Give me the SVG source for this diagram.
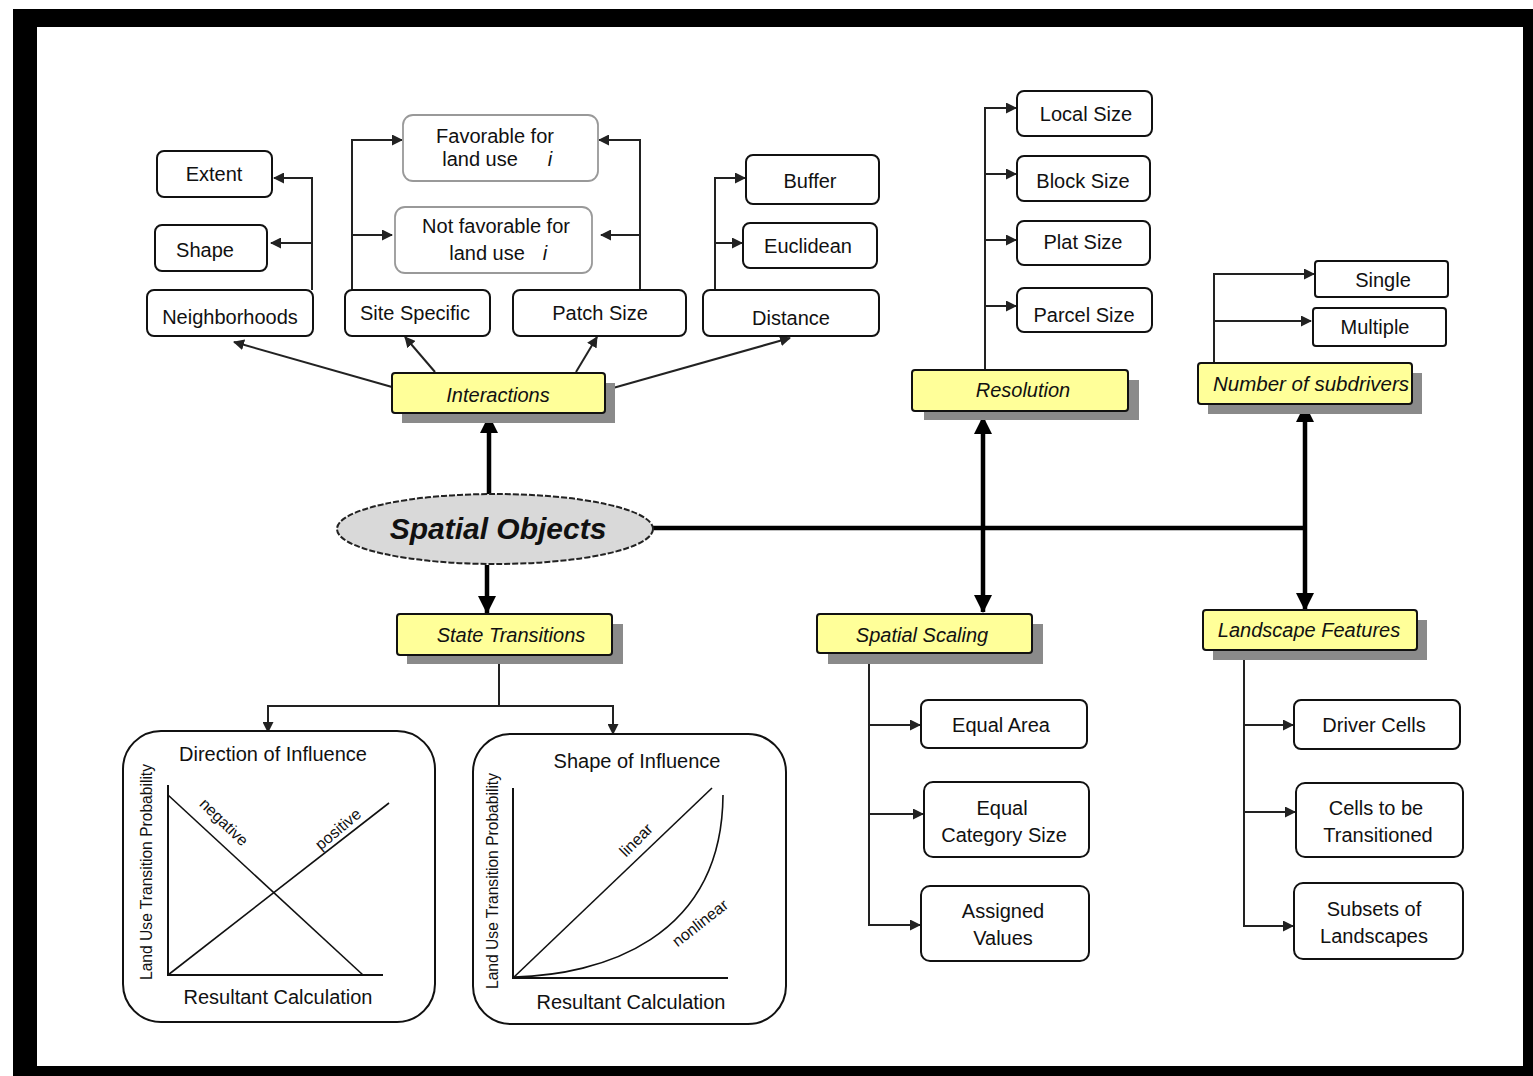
<svg xmlns="http://www.w3.org/2000/svg" width="1533" height="1076" viewBox="0 0 1533 1076">
<style>
.box{fill:#fff;stroke:#111;stroke-width:2}
.gbox{fill:#fff;stroke:#999;stroke-width:1.8}
.yb{fill:#ffff99;stroke:#111;stroke-width:2}
.sh{fill:#8a8a8a}
.t{font-family:"Liberation Sans",Arial,sans-serif;font-size:20px;fill:#111;text-anchor:middle;dominant-baseline:central}
.ti{font-family:"Liberation Sans",Arial,sans-serif;font-size:20px;font-style:italic;fill:#111;text-anchor:middle;dominant-baseline:central}
.sm{font-family:"Liberation Sans",Arial,sans-serif;font-size:16px;fill:#111;text-anchor:middle;dominant-baseline:central}
.ln{fill:none;stroke:#222;stroke-width:2}
.thick{fill:none;stroke:#000;stroke-width:4.5}
.ax{fill:none;stroke:#111;stroke-width:2}
.cv{fill:none;stroke:#111;stroke-width:1.6}
</style>
<defs>
<marker id="a" markerUnits="userSpaceOnUse" markerWidth="11" markerHeight="11" refX="10" refY="5.5" orient="auto"><path d="M0,0 L11,5.5 L0,11 z" fill="#222"/></marker>
<marker id="A" markerUnits="userSpaceOnUse" markerWidth="18" markerHeight="18" refX="17" refY="9" orient="auto-start-reverse"><path d="M0,0 L18,9 L0,18 z" fill="#000"/></marker>
</defs>
<rect x="0" y="0" width="1533" height="1076" fill="#fff"/>
<rect x="13" y="9" width="1520" height="1067" fill="#000"/>
<rect x="37" y="27" width="1486" height="1039" fill="#fff"/>

<g id="connectors">
<!-- Neighborhoods branch -->
<path class="ln" d="M312,290 V178 H274" marker-end="url(#a)"/>
<path class="ln" d="M312,243 H271" marker-end="url(#a)"/>
<!-- Site specific branch -->
<path class="ln" d="M352,290 V140 H402" marker-end="url(#a)"/>
<path class="ln" d="M352,235 H392" marker-end="url(#a)"/>
<!-- Patch size branch -->
<path class="ln" d="M640,290 V140 H599" marker-end="url(#a)"/>
<path class="ln" d="M640,235 H601" marker-end="url(#a)"/>
<!-- Distance branch -->
<path class="ln" d="M715,290 V178 H745" marker-end="url(#a)"/>
<path class="ln" d="M715,243 H742" marker-end="url(#a)"/>
<!-- Interactions to children -->
<path class="ln" d="M392,387 L234,342" marker-end="url(#a)"/>
<path class="ln" d="M435,372 L405,337" marker-end="url(#a)"/>
<path class="ln" d="M576,372 L597,337" marker-end="url(#a)"/>
<path class="ln" d="M613,388 L790,338" marker-end="url(#a)"/>
<!-- Resolution branch -->
<path class="ln" d="M985,370 V108 H1016" marker-end="url(#a)"/>
<path class="ln" d="M985,174 H1016" marker-end="url(#a)"/>
<path class="ln" d="M985,240 H1016" marker-end="url(#a)"/>
<path class="ln" d="M985,306 H1016" marker-end="url(#a)"/>
<!-- Number of subdrivers branch -->
<path class="ln" d="M1214,363 V274 H1314" marker-end="url(#a)"/>
<path class="ln" d="M1214,321 H1311" marker-end="url(#a)"/>
<!-- Spatial objects thick links -->
<path class="thick" d="M489,494 V416" marker-end="url(#A)"/>
<path class="thick" d="M487,565 V613" marker-end="url(#A)"/>
<path class="thick" d="M653,528 H1305"/>
<path class="thick" d="M983,417 V612" marker-start="url(#A)" marker-end="url(#A)"/>
<path class="thick" d="M1305,405 V610" marker-start="url(#A)" marker-end="url(#A)"/>
<!-- State transitions -->
<path class="ln" d="M499,656 V706 M268,706 H613"/>
<path class="ln" d="M268,705 V732" marker-end="url(#a)"/>
<path class="ln" d="M613,705 V734" marker-end="url(#a)"/>
<!-- Spatial scaling -->
<path class="ln" d="M869,654 V925 H920" marker-end="url(#a)"/>
<path class="ln" d="M869,725 H920" marker-end="url(#a)"/>
<path class="ln" d="M869,814 H923" marker-end="url(#a)"/>
<!-- Landscape features -->
<path class="ln" d="M1244,651 V926 H1293" marker-end="url(#a)"/>
<path class="ln" d="M1244,725 H1293" marker-end="url(#a)"/>
<path class="ln" d="M1244,812 H1295" marker-end="url(#a)"/>
</g>

<g id="spatial-objects">
<ellipse cx="495" cy="529" rx="158" ry="35" fill="#d9d9d9" stroke="#222" stroke-width="2" stroke-dasharray="6,2"/>
<text x="498" y="528" font-family="Liberation Sans,Arial,sans-serif" font-size="30" font-weight="bold" font-style="italic" text-anchor="middle" dominant-baseline="central" fill="#111">Spatial Objects</text>
</g>

<g id="interactions">
<rect class="sh" x="402" y="383" width="213" height="40"/>
<rect class="yb" x="392" y="373" width="213" height="40" rx="3"/>
<text class="ti" x="498" y="395">Interactions</text>
</g>
<g id="extent"><rect class="box" x="157" y="151" width="115" height="46" rx="7"/><text class="t" x="214" y="174">Extent</text></g>
<g id="shape"><rect class="box" x="155" y="225" width="112" height="46" rx="7"/><text class="t" x="205" y="250">Shape</text></g>
<g id="neighborhoods"><rect class="box" x="147" y="290" width="166" height="46" rx="7"/><text class="t" x="230" y="317">Neighborhoods</text></g>
<g id="site-specific"><rect class="box" x="345" y="290" width="145" height="46" rx="7"/><text class="t" x="415" y="313">Site Specific</text></g>
<g id="patch-size"><rect class="box" x="513" y="290" width="173" height="46" rx="7"/><text class="t" x="600" y="313">Patch Size</text></g>
<g id="distance"><rect class="box" x="703" y="290" width="176" height="46" rx="7"/><text class="t" x="791" y="318">Distance</text></g>
<g id="favorable"><rect class="gbox" x="403" y="115" width="195" height="66" rx="10"/><text class="t" x="495" y="136">Favorable for</text><text class="t" x="480" y="159">land use</text><text class="ti" x="550" y="159">i</text></g>
<g id="not-favorable"><rect class="gbox" x="395" y="207" width="197" height="66" rx="10"/><text class="t" x="496" y="226">Not favorable for</text><text class="t" x="487" y="253">land use</text><text class="ti" x="545" y="253">i</text></g>
<g id="buffer"><rect class="box" x="746" y="155" width="133" height="49" rx="7"/><text class="t" x="810" y="181">Buffer</text></g>
<g id="euclidean"><rect class="box" x="743" y="223" width="134" height="45" rx="7"/><text class="t" x="808" y="246">Euclidean</text></g>

<g id="resolution">
<rect class="sh" x="924" y="380" width="215" height="40"/>
<rect class="yb" x="912" y="370" width="216" height="41" rx="3"/>
<text class="ti" x="1023" y="390">Resolution</text>
</g>
<g id="local-size"><rect class="box" x="1017" y="91" width="135" height="45" rx="7"/><text class="t" x="1086" y="114">Local Size</text></g>
<g id="block-size"><rect class="box" x="1017" y="156" width="133" height="45" rx="7"/><text class="t" x="1083" y="181">Block Size</text></g>
<g id="plat-size"><rect class="box" x="1017" y="221" width="133" height="44" rx="7"/><text class="t" x="1083" y="242">Plat Size</text></g>
<g id="parcel-size"><rect class="box" x="1017" y="288" width="135" height="44" rx="7"/><text class="t" x="1084" y="315">Parcel Size</text></g>

<g id="number-of-subdrivers">
<rect class="sh" x="1208" y="373" width="214" height="41"/>
<rect class="yb" x="1198" y="363" width="214" height="41" rx="3"/>
<text class="ti" x="1311" y="384" textLength="196" lengthAdjust="spacingAndGlyphs">Number of subdrivers</text>
</g>
<g id="single"><rect class="box" x="1315" y="261" width="133" height="36" rx="3"/><text class="t" x="1383" y="280">Single</text></g>
<g id="multiple"><rect class="box" x="1313" y="308" width="133" height="38" rx="3"/><text class="t" x="1375" y="327">Multiple</text></g>

<g id="state-transitions">
<rect class="sh" x="407" y="624" width="216" height="40"/>
<rect class="yb" x="397" y="614" width="215" height="41" rx="3"/>
<text class="ti" x="511" y="635">State Transitions</text>
</g>
<g id="spatial-scaling">
<rect class="sh" x="828" y="624" width="215" height="40"/>
<rect class="yb" x="817" y="614" width="215" height="39" rx="3"/>
<text class="ti" x="922" y="635">Spatial Scaling</text>
</g>
<g id="landscape-features">
<rect class="sh" x="1213" y="620" width="214" height="40"/>
<rect class="yb" x="1203" y="610" width="214" height="40" rx="3"/>
<text class="ti" x="1309" y="630">Landscape Features</text>
</g>

<g id="equal-area"><rect class="box" x="921" y="700" width="166" height="48" rx="7"/><text class="t" x="1001" y="725">Equal Area</text></g>
<g id="equal-category-size"><rect class="box" x="924" y="782" width="165" height="75" rx="9"/><text class="t" x="1002" y="808">Equal</text><text class="t" x="1004" y="835">Category Size</text></g>
<g id="assigned-values"><rect class="box" x="921" y="886" width="168" height="75" rx="9"/><text class="t" x="1003" y="911">Assigned</text><text class="t" x="1003" y="938">Values</text></g>
<g id="driver-cells"><rect class="box" x="1294" y="700" width="166" height="49" rx="7"/><text class="t" x="1374" y="725">Driver Cells</text></g>
<g id="cells-to-be-transitioned"><rect class="box" x="1296" y="783" width="167" height="74" rx="9"/><text class="t" x="1376" y="808">Cells to be</text><text class="t" x="1378" y="835">Transitioned</text></g>
<g id="subsets-of-landscapes"><rect class="box" x="1294" y="883" width="169" height="76" rx="9"/><text class="t" x="1374" y="909">Subsets of</text><text class="t" x="1374" y="936">Landscapes</text></g>

<g id="direction-of-influence">
<rect class="box" x="123" y="731" width="312" height="291" rx="38"/>
<text class="t" x="273" y="754">Direction of Influence</text>
<path class="ax" d="M168,785 V975 H383"/>
<path class="cv" d="M168,795 L363,975"/>
<path class="cv" d="M168,975 L389,803"/>
<text class="sm" x="0" y="0" transform="translate(224,822) rotate(44)">negative</text>
<text class="sm" x="0" y="0" transform="translate(338,829) rotate(-40)">positive</text>
<text class="sm" x="0" y="0" transform="translate(146,872) rotate(-90)" textLength="216" lengthAdjust="spacingAndGlyphs">Land Use Transition Probability</text>
<text class="t" x="278" y="997">Resultant Calculation</text>
</g>

<g id="shape-of-influence">
<rect class="box" x="473" y="734" width="313" height="290" rx="38"/>
<text class="t" x="637" y="761">Shape of Influence</text>
<path class="ax" d="M513,788 V978 H728"/>
<path class="cv" d="M513,978 L712,788"/>
<path class="cv" d="M514,977 C600,975 722,940 723,795"/>
<text class="sm" x="0" y="0" transform="translate(636,840) rotate(-45)">linear</text>
<text class="sm" x="0" y="0" transform="translate(700,923) rotate(-38)">nonlinear</text>
<text class="sm" x="0" y="0" transform="translate(492,881) rotate(-90)" textLength="216" lengthAdjust="spacingAndGlyphs">Land Use Transition Probability</text>
<text class="t" x="631" y="1002">Resultant Calculation</text>
</g>
</svg>
